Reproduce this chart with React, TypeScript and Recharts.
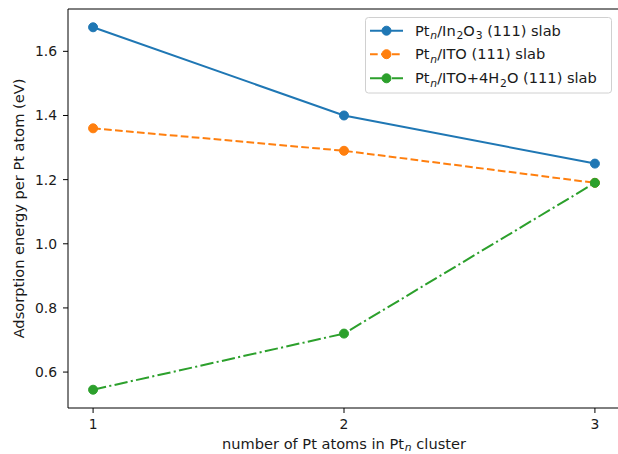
import React from "react";
import { LineChart, Line, XAxis, YAxis, ReferenceLine } from "recharts";

const xValues = [1, 2, 3];
const ptIn2O3 = [1.675, 1.4, 1.25];
const ptITO = [1.36, 1.29, 1.19];
const ptITOH2O = [0.545, 0.72, 1.19];
const xTicks = [1, 2, 3];
const yTicks = [0.6, 0.8, 1.0, 1.2, 1.4, 1.6];
const xDomain = [0.9, 3.1];
const yDomain = [0.488, 1.732];

const COLORS = { blue: "#1f77b4", orange: "#ff7f0e", green: "#2ca02c" };
const FONT = "DejaVu Sans, sans-serif";
const FS = 13.9;
const LFS = 14.6;

const data = xValues.map((x, i) => ({
  x,
  a: ptIn2O3[i],
  b: ptITO[i],
  c: ptITOH2O[i],
}));

type Seg = { t: string; sub?: boolean; it?: boolean };

const legendItems: { color: string; dash?: string; segs: Seg[] }[] = [
  {
    color: COLORS.blue,
    segs: [
      { t: "Pt" },
      { t: "n", sub: true, it: true },
      { t: "/In" },
      { t: "2", sub: true },
      { t: "O" },
      { t: "3", sub: true },
      { t: " (111) slab" },
    ],
  },
  {
    color: COLORS.orange,
    dash: "7.7 3.3",
    segs: [{ t: "Pt" }, { t: "n", sub: true, it: true }, { t: "/ITO (111) slab" }],
  },
  {
    color: COLORS.green,
    dash: "13.3 3.3 2.1 3.3",
    segs: [
      { t: "Pt" },
      { t: "n", sub: true, it: true },
      { t: "/ITO+4H" },
      { t: "2", sub: true },
      { t: "O (111) slab" },
    ],
  },
];

function renderSegs(segs: Seg[], fs: number, shift = 3.5) {
  const out: React.ReactNode[] = [];
  let shifted = false;
  segs.forEach((s, i) => {
    let dy = 0;
    if (s.sub && !shifted) {
      dy = shift;
      shifted = true;
    } else if (!s.sub && shifted) {
      dy = -shift;
      shifted = false;
    }
    out.push(
      <tspan
        key={i}
        dy={dy}
        dx={s.sub ? 0.8 : 0}
        fontSize={s.sub ? fs * 0.74 : fs}
        fontStyle={s.it ? "italic" : "normal"}
      >
        {s.t}
      </tspan>
    );
  });
  return out;
}

const Overlay = () => {
  const rowY = [30.7, 54.2, 78.3];
  return (
    <g fontFamily={FONT}>
      <rect
        x={365.5}
        y={17.5}
        width={246}
        height={75.5}
        rx={3}
        ry={3}
        fill="#ffffff"
        fillOpacity={0.8}
        stroke="#d0d0d0"
        strokeWidth={1}
      />
      {legendItems.map((it, i) => (
        <g key={i}>
          <line
            x1={370}
            x2={403}
            y1={rowY[i]}
            y2={rowY[i]}
            stroke={it.color}
            strokeWidth={2}
            strokeDasharray={it.dash}
          />
          <circle cx={386.5} cy={rowY[i]} r={4.5} fill={it.color} stroke={it.color} strokeWidth={1} />
          <text x={415} y={rowY[i] + 5} fill="#1a1a1a" fontSize={LFS}>
            {renderSegs(it.segs, LFS)}
          </text>
        </g>
      ))}
      <text x={344} y={448.5} textAnchor="middle" fontSize={LFS} fill="#1a1a1a">
        {renderSegs(
          [
            { t: "number of Pt atoms in Pt" },
            { t: "n", sub: true, it: true },
            { t: " cluster" },
          ],
          LFS,
          2.8
        )}
      </text>
      <text
        x={24}
        y={208.5}
        textAnchor="middle"
        fontSize={LFS}
        fill="#1a1a1a"
        transform="rotate(-90, 24, 208.5)"
      >
        Adsorption energy per Pt atom (eV)
      </text>
    </g>
  );
};

export default function App() {
  return (
    <div
      style={{
        position: "absolute",
        left: 0,
        top: 0,
        width: 618,
        height: 454,
        overflow: "hidden",
        background: "#fff",
      }}
    >
      <LineChart
        width={640}
        height={454}
        data={data}
        margin={{ top: 9, right: 20, bottom: 0, left: 0 }}
      >
        <XAxis
          dataKey="x"
          type="number"
          domain={xDomain}
          ticks={xTicks}
          allowDataOverflow
          tickSize={5}
          tickMargin={6}
          stroke="#000"
          tick={{ fill: "#1a1a1a", fontSize: FS, fontFamily: FONT }}
          height={46}
        />
        <YAxis
          type="number"
          domain={yDomain}
          ticks={yTicks}
          allowDataOverflow
          tickFormatter={(v: number) => v.toFixed(1)}
          tickSize={5}
          tickMargin={6}
          stroke="#000"
          tick={{ fill: "#1a1a1a", fontSize: FS, fontFamily: FONT }}
          width={68}
        />
        <ReferenceLine y={yDomain[1]} stroke="#000" strokeWidth={1} />
        <Line
          type="linear"
          dataKey="a"
          stroke={COLORS.blue}
          strokeWidth={2}
          dot={{ r: 4.5, fill: COLORS.blue, stroke: COLORS.blue, strokeWidth: 1 }}
          isAnimationActive={false}
        />
        <Line
          type="linear"
          dataKey="b"
          stroke={COLORS.orange}
          strokeWidth={2}
          strokeDasharray="7.7 3.3"
          dot={{ r: 4.5, fill: COLORS.orange, stroke: COLORS.orange, strokeWidth: 1, strokeDasharray: "" }}
          isAnimationActive={false}
        />
        <Line
          type="linear"
          dataKey="c"
          stroke={COLORS.green}
          strokeWidth={2}
          strokeDasharray="13.3 3.3 2.1 3.3"
          dot={{ r: 4.5, fill: COLORS.green, stroke: COLORS.green, strokeWidth: 1, strokeDasharray: "" }}
          isAnimationActive={false}
        />
        <Overlay />
      </LineChart>
    </div>
  );
}
